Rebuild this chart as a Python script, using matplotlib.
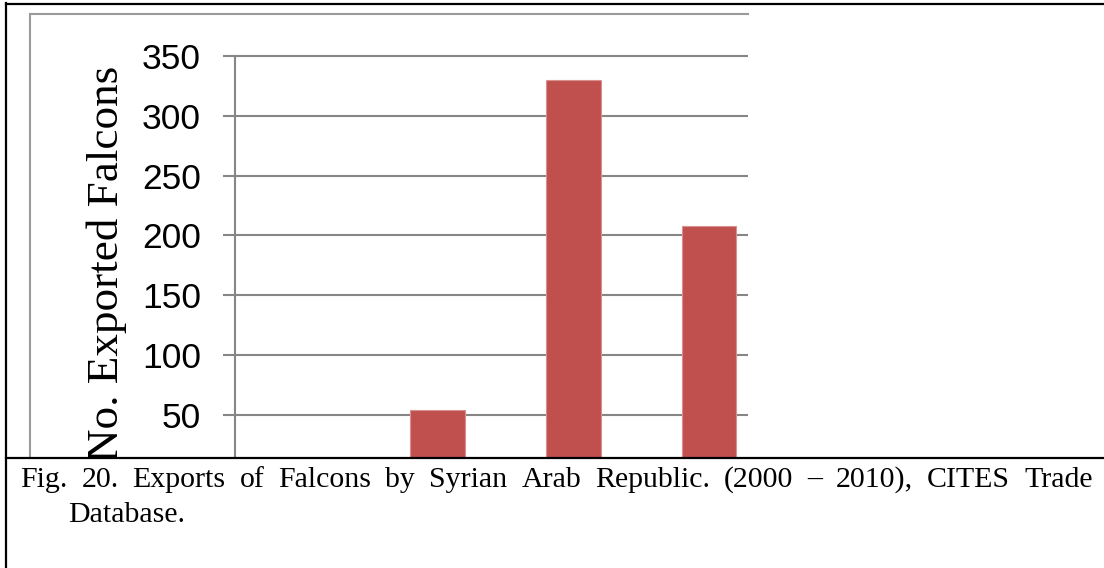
import matplotlib
matplotlib.use("Agg")
import matplotlib.pyplot as plt
from matplotlib.patches import Rectangle
from matplotlib.lines import Line2D

# ---- data ----
categories = ["2000", "2001", "2002", "2003"]
exports = [0, 54, 330, 208]
yticks = [50, 100, 150, 200, 250, 300, 350]
ylabel = "No. Exported Falcons"
caption_line1 = "Fig. 20. Exports of Falcons by Syrian Arab Republic. (2000 \u2013 2010), CITES Trade"
caption_line2 = "Database."

W, H = 1104, 568


def fx(px):
    return px / W


def fy(py):
    return 1 - py / H


fig = plt.figure(figsize=(W / 100, H / 100), dpi=100)
fig.patch.set_facecolor("white")

grid_c = "#868686"
ax_top_px, ax_bot_px = 53.6, 457
ax = fig.add_axes([fx(235), fy(ax_bot_px), fx(748) - fx(235), fy(ax_top_px) - fy(ax_bot_px)])
x = list(range(len(categories)))
ax.bar(x, exports, width=0.4, color="#C0504D", edgecolor="#D9918F", linewidth=0.8, zorder=3)
ax.set_xlim(-0.49, 3.285)
ax.set_ylim(14.9, 352)
ax.set_axisbelow(True)
ax.yaxis.grid(True, color=grid_c, linewidth=1.5)
ax.set_yticks(yticks)
ax.set_yticklabels([str(v) for v in yticks], fontsize=25.5, family="Liberation Sans")
ax.tick_params(axis="y", length=8.6, width=1.5, color=grid_c, pad=16.0)
ax.set_xticks([])
for s in ["top", "right", "bottom"]:
    ax.spines[s].set_visible(False)
ax.spines["left"].set_color(grid_c)
ax.spines["left"].set_linewidth(1.5)
ax.spines["left"].set_bounds(14.9, 350)
ax.patch.set_alpha(0)

# y label
fig.text(fx(118), fy(263), ylabel, rotation=90, rotation_mode="anchor",
         ha="center", va="baseline", fontsize=32.5, family="Liberation Serif", zorder=3)

# gray chart-area border
fig.add_artist(Line2D([fx(30), fx(30)], [fy(14), fy(457)], color="#9A9A9A", lw=1.5, zorder=2))
fig.add_artist(Line2D([fx(30), fx(748)], [fy(14), fy(14)], color="#9A9A9A", lw=1.5, zorder=2))

# white cover below the chart crop
fig.add_artist(Rectangle((0, 0), 1, fy(457), transform=fig.transFigure,
                         facecolor="white", edgecolor="none", zorder=4))

# black frame lines
fig.add_artist(Line2D([fx(6), fx(1104)], [fy(4), fy(4)], color="black", lw=1.6, zorder=6))
fig.add_artist(Line2D([fx(6), fx(6)], [fy(3.2), fy(568)], color="black", lw=1.6, zorder=6))
fig.add_artist(Line2D([fx(6), fx(1104)], [fy(457.5), fy(457.5)], color="black", lw=1.6, zorder=6))

# caption (justified first line)
renderer = fig.canvas.get_renderer()
words = caption_line1.split(" ")
texts = [fig.text(0, fy(487), w, fontsize=21.5, family="Liberation Serif",
                  ha="left", va="baseline", zorder=7) for w in words]
widths = [t.get_window_extent(renderer).width for t in texts]
x_left, x_right = 20, 1092.5
gap = (x_right - x_left - sum(widths)) / (len(words) - 1)
xp = x_left
for t, w in zip(texts, widths):
    t.set_x(fx(xp))
    xp += w + gap
fig.text(fx(68), fy(522), caption_line2, fontsize=21.5, family="Liberation Serif",
         ha="left", va="baseline", zorder=7)

fig.savefig("out.png", dpi=100)
